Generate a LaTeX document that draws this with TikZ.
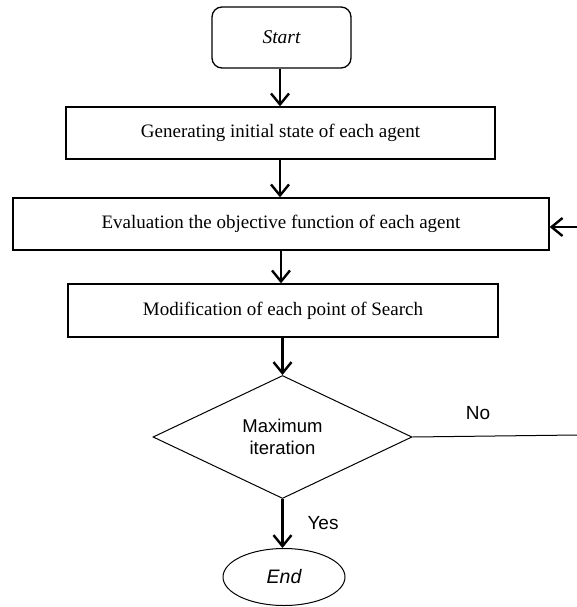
\documentclass[tikz,border=0pt]{standalone}
\usepackage{fontspec}
\setmainfont{Liberation Serif}
\newfontfamily\arialfont{Liberation Sans}
\usetikzlibrary{shapes.geometric,arrows.meta}
\begin{document}
\begin{tikzpicture}[x=1pt,y=-1pt,
  box/.style={draw, line width=1.3pt, inner sep=0pt, font=\fontsize{19}{22}\selectfont},
  arr/.style={line width=2.4pt, -{Straight Barb[length=11pt,width=18pt,line width=2.4pt]}},
  lbl/.style={font=\arialfont\fontsize{19}{22}\selectfont}]
\useasboundingbox (0,0) rectangle (577,607);
\node[box, rounded corners=10pt, minimum width=139pt, minimum height=61pt,
  font=\itshape\fontsize{19.5}{22}\selectfont] (start) at (281.5,37.5) {Start};
\node[box, minimum width=429pt, minimum height=52pt] (b1) at (280.5,133)
  {Generating initial state of each agent};
\node[box, minimum width=536pt, minimum height=52pt] (b2) at (281,224)
  {Evaluation the objective function of each agent};
\node[box, minimum width=430pt, minimum height=53pt] (b3) at (283,310.5)
  {Modification of each point of Search};
\node[draw, diamond, line width=1pt, minimum width=259pt, minimum height=123pt,
  inner sep=0pt, align=center, font=\arialfont\fontsize{18.5}{22}\selectfont]
  (dia) at (282.5,437) {Maximum\\iteration};
\node[draw, ellipse, line width=1pt, minimum width=122pt, minimum height=57pt,
  inner sep=0pt, font=\arialfont\itshape\fontsize{19.5}{22}\selectfont]
  (end) at (284,577) {End};
\coordinate (noend) at (577,435);
\coordinate (back) at (577,227);
\draw[arr] (280,0 |- start.south) -- (280,0 |- b1.north);
\draw[arr] (280,0 |- b1.south) -- (280,0 |- b2.north);
\draw[arr] (281,0 |- b2.south) -- (281,0 |- b3.north);
\draw[arr] (dia.north |- b3.south) -- (dia.north);
\draw[arr] (dia.south) -- (dia.south |- end.north);
\draw[line width=1pt] (dia.east) -- (noend);
\draw[arr] (back) -- (back -| b2.east);
\node[lbl] (no) at (478,413) {No};
\node[lbl] (yes) at (323,523) {Yes};
\end{tikzpicture}
\end{document}
